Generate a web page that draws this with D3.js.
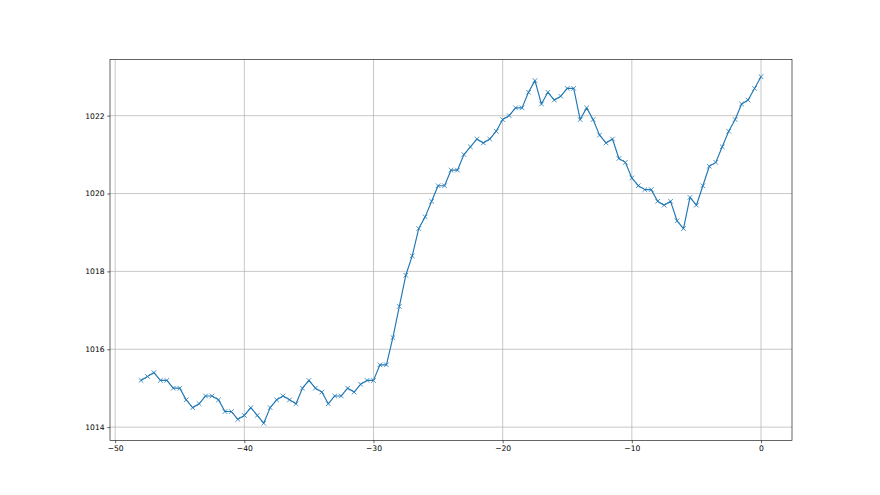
<!DOCTYPE html>
<html>
<head>
<meta charset="utf-8">
<script src="https://cdn.jsdelivr.net/npm/d3@7"></script>
<style>
  body { margin: 0; background: #fff; }
  svg { display: block; }
  .tick text { font-family: "DejaVu Sans", sans-serif; font-size: 7.6px; fill: #000; }
</style>
</head>
<body>
<div id="chart"></div>
<script>
// hours relative to now, and pressure readings (hPa)
const hours = [
  -48, -47.5, -47, -46.5, -46, -45.5, -45, -44.5, -44, -43.5,
  -43, -42.5, -42, -41.5, -41, -40.5, -40, -39.5, -39, -38.5,
  -38, -37.5, -37, -36.5, -36, -35.5, -35, -34.5, -34, -33.5,
  -33, -32.5, -32, -31.5, -31, -30.5, -30, -29.5, -29, -28.5,
  -28, -27.5, -27, -26.5, -26, -25.5, -25, -24.5, -24, -23.5,
  -23, -22.5, -22, -21.5, -21, -20.5, -20, -19.5, -19, -18.5,
  -18, -17.5, -17, -16.5, -16, -15.5, -15, -14.5, -14, -13.5,
  -13, -12.5, -12, -11.5, -11, -10.5, -10, -9.5, -9, -8.5,
  -8, -7.5, -7, -6.5, -6, -5.5, -5, -4.5, -4, -3.5,
  -3, -2.5, -2, -1.5, -1, -0.5, 0
];
const pressure = [
  1015.2, 1015.3, 1015.4, 1015.2, 1015.2, 1015.0, 1015.0, 1014.7, 1014.5, 1014.6,
  1014.8, 1014.8, 1014.7, 1014.4, 1014.4, 1014.2, 1014.3, 1014.5, 1014.3, 1014.1,
  1014.5, 1014.7, 1014.8, 1014.7, 1014.6, 1015.0, 1015.2, 1015.0, 1014.9, 1014.6,
  1014.8, 1014.8, 1015.0, 1014.9, 1015.1, 1015.2, 1015.2, 1015.6, 1015.6, 1016.3,
  1017.1, 1017.9, 1018.4, 1019.1, 1019.4, 1019.8, 1020.2, 1020.2, 1020.6, 1020.6,
  1021.0, 1021.2, 1021.4, 1021.3, 1021.4, 1021.6, 1021.9, 1022.0, 1022.2, 1022.2,
  1022.6, 1022.9, 1022.3, 1022.6, 1022.4, 1022.5, 1022.7, 1022.7, 1021.9, 1022.2,
  1021.9, 1021.5, 1021.3, 1021.4, 1020.9, 1020.8, 1020.4, 1020.2, 1020.1, 1020.1,
  1019.8, 1019.7, 1019.8, 1019.3, 1019.1, 1019.9, 1019.7, 1020.2, 1020.7, 1020.8,
  1021.2, 1021.6, 1021.9, 1022.3, 1022.4, 1022.7, 1023.0
];
const xTicks = [-50, -40, -30, -20, -10, 0];
const yTicks = [1014, 1016, 1018, 1020, 1022];

const W = 880, H = 495;
const margin = { top: 59.4, right: 88, bottom: 54.45, left: 110 };
const w = W - margin.left - margin.right;
const h = H - margin.top - margin.bottom;

const data = hours.map((x, i) => ({ x: x, y: pressure[i] }));

// matplotlib style 5% margins
const xExt = d3.extent(hours), yExt = d3.extent(pressure);
const xPad = (xExt[1] - xExt[0]) * 0.05, yPad = (yExt[1] - yExt[0]) * 0.05;

const x = d3.scaleLinear().domain([xExt[0] - xPad, xExt[1] + xPad]).range([0, w]);
const y = d3.scaleLinear().domain([yExt[0] - yPad, yExt[1] + yPad]).range([h, 0]);

const svg = d3.select("#chart").append("svg")
    .attr("width", W)
    .attr("height", H);

const g = svg.append("g")
    .attr("transform", `translate(${margin.left},${margin.top})`);

// grid
g.append("g").selectAll("line").data(xTicks).enter().append("line")
    .attr("x1", d => x(d)).attr("x2", d => x(d))
    .attr("y1", 0).attr("y2", h)
    .attr("stroke", "#b0b0b0").attr("stroke-width", 0.7);
g.append("g").selectAll("line").data(yTicks).enter().append("line")
    .attr("y1", d => y(d)).attr("y2", d => y(d))
    .attr("x1", 0).attr("x2", w)
    .attr("stroke", "#b0b0b0").attr("stroke-width", 0.7);

// axes
const xAxis = g.append("g")
    .attr("transform", `translate(0,${h})`)
    .call(d3.axisBottom(x).tickValues(xTicks).tickSize(2.7).tickPadding(2.7).tickFormat(d3.format("d")));
const yAxis = g.append("g")
    .call(d3.axisLeft(y).tickValues(yTicks).tickSize(2.7).tickPadding(2.7).tickFormat(d3.format("d")));
[xAxis, yAxis].forEach(a => {
    a.select(".domain").remove();
    a.selectAll(".tick line").attr("stroke", "#000").attr("stroke-width", 0.6);
});

// line
g.append("path")
    .datum(data)
    .attr("fill", "none")
    .attr("stroke", "#1f77b4")
    .attr("stroke-width", 1.15)
    .attr("stroke-linejoin", "round")
    .attr("d", d3.line().x(d => x(d.x)).y(d => y(d.y)));

// x markers
const m = 2.3;
g.append("g").selectAll("path").data(data).enter().append("path")
    .attr("d", d => {
        const cx = x(d.x), cy = y(d.y);
        return `M${cx - m},${cy - m}L${cx + m},${cy + m}M${cx - m},${cy + m}L${cx + m},${cy - m}`;
    })
    .attr("stroke", "#1f77b4")
    .attr("stroke-width", 0.8)
    .attr("fill", "none");

// frame
g.append("rect")
    .attr("width", w).attr("height", h)
    .attr("fill", "none")
    .attr("stroke", "#000")
    .attr("stroke-width", 0.6);
</script>
</body>
</html>
